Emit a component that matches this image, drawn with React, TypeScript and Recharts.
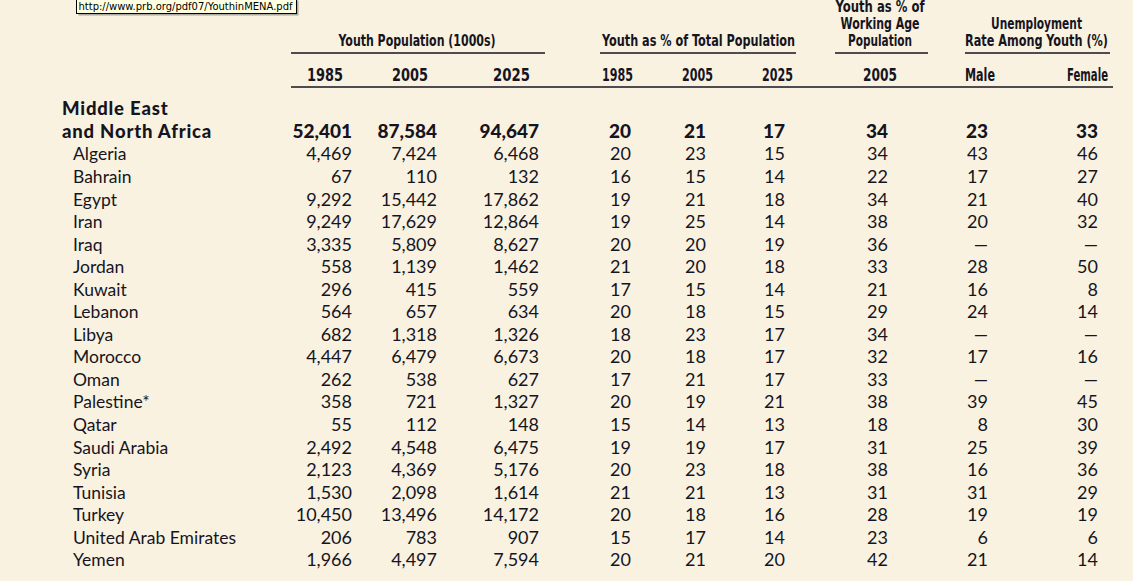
// Youth in MENA table, drawn as a scatter of text marks on a row/column scale.
import { ScatterChart, Scatter, XAxis, YAxis } from 'recharts'

const COUNTRIES = [
  'Middle East and North Africa', 'Algeria', 'Bahrain', 'Egypt', 'Iran', 'Iraq', 'Jordan',
  'Kuwait', 'Lebanon', 'Libya', 'Morocco', 'Oman', 'Palestine*', 'Qatar', 'Saudi Arabia',
  'Syria', 'Tunisia', 'Turkey', 'United Arab Emirates', 'Yemen',
]

const POP_1985 = [52401, 4469, 67, 9292, 9249, 3335, 558, 296, 564, 682, 4447, 262, 358, 55, 2492, 2123, 1530, 10450, 206, 1966]
const POP_2005 = [87584, 7424, 110, 15442, 17629, 5809, 1139, 415, 657, 1318, 6479, 538, 721, 112, 4548, 4369, 2098, 13496, 783, 4497]
const POP_2025 = [94647, 6468, 132, 17862, 12864, 8627, 1462, 559, 634, 1326, 6673, 627, 1327, 148, 6475, 5176, 1614, 14172, 907, 7594]
const PCT_1985 = [20, 20, 16, 19, 19, 20, 21, 17, 20, 18, 20, 17, 20, 15, 19, 20, 21, 20, 15, 20]
const PCT_2005 = [21, 23, 15, 21, 25, 20, 20, 15, 18, 23, 18, 21, 19, 14, 19, 23, 21, 18, 17, 21]
const PCT_2025 = [17, 15, 14, 18, 14, 19, 18, 14, 15, 17, 17, 17, 21, 13, 17, 18, 13, 16, 14, 20]
const WORKING_2005 = [34, 34, 22, 34, 38, 36, 33, 21, 29, 34, 32, 33, 38, 18, 31, 38, 31, 28, 23, 42]
const UNEMP_MALE = [23, 43, 17, 21, 20, null, 28, 16, 24, null, 17, null, 39, 8, 25, 16, 31, 19, 6, 21]
const UNEMP_FEMALE = [33, 46, 27, 40, 32, null, 50, 8, 14, null, 16, null, 45, 30, 39, 36, 29, 19, 6, 14]

const COLUMN_LABELS = ['1985', '2005', '2025', '1985', '2005', '2025', '2005', 'Male', 'Female']
const GROUP_LABELS = [
  ['Youth Population (1000s)'],
  ['Youth as % of Total Population'],
  ['Youth as % of', 'Working Age', 'Population'],
  ['Unemployment', 'Rate Among Youth (%)'],
]
const SOURCE_URL = 'http://www.prb.org/pdf07/YouthinMENA.pdf'

// layout (pixels)
const W = 1133
const H = 581
const LEFT = 60
const COL_RIGHT = [352, 437, 539, 631, 706, 785, 888, 988, 1098]
const HEAD_CENTER = [325, 410, 511.5, 617.5, 697.5, 777.5, 880, 980, 1087.5]
const HEAD_WIDTH = [36, 36, 37, 31, 31, 31, 34, 30, 41]
const GROUPS = [
  { x1: 291, x2: 545, cx: 417, widths: [157] },
  { x1: 600, x2: 796, cx: 698.5, widths: [193] },
  { x1: 835, x2: 928, cx: 880, widths: [89, 79, 64] },
  { x1: 965, x2: 1110, cx: 1036.5, widths: [91, 143] },
]
const INK = '#15151f'
const BG = '#FAF2E1'
const BODY_FONT = 'Lato, "Noto Sans", sans-serif'
const HEAD_FONT = '"DejaVu Sans Condensed", "DejaVu Sans", sans-serif'

const COLUMNS = [POP_1985, POP_2005, POP_2025, PCT_1985, PCT_2005, PCT_2025, WORKING_2005, UNEMP_MALE, UNEMP_FEMALE]

const fmt = (v: number | null) => (v === null ? '—' : v.toLocaleString('en-US'))

const CellText = (props: any) => {
  const { cx, cy, payload } = props
  const bold = payload.y === 0
  return (
    <text
      x={cx}
      y={cy + 6.5}
      textAnchor="end"
      fontFamily={BODY_FONT}
      fontSize={bold ? 19 : 18}
      fontWeight={bold ? 900 : 400}
      fill={INK}
    >
      {payload.label}
    </text>
  )
}

const CountryTick = (props: any) => {
  const { y, payload } = props
  const i = payload.value as number
  if (i === 0) {
    return (
      <g>
        <text x={62} y={y - 16} fontFamily={BODY_FONT} fontSize={18.5} fontWeight={900} letterSpacing={0.8} fill={INK}>
          Middle East
        </text>
        <text x={62} y={y + 6.5} fontFamily={BODY_FONT} fontSize={18.5} fontWeight={900} letterSpacing={0.8} fill={INK}>
          and North Africa
        </text>
      </g>
    )
  }
  return (
    <text x={73} y={y + 6.5} fontFamily={BODY_FONT} fontSize={17.5} fill={INK}>
      {COUNTRIES[i]}
    </text>
  )
}

const Header = () => (
  <g>
    {GROUPS.map((g, gi) => {
      const lines = GROUP_LABELS[gi]
      return (
        <g key={gi}>
          {lines.map((t, li) => (
            <text
              key={t}
              x={g.cx}
              y={46 - (lines.length - 1 - li) * 17}
              textAnchor="middle"
              fontFamily={HEAD_FONT}
              fontWeight="bold"
              fontSize={16}
              textLength={g.widths[li]}
              lengthAdjust="spacingAndGlyphs"
              fill={INK}
            >
              {t}
            </text>
          ))}
          <line x1={g.x1} x2={g.x2} y1={53} y2={53} stroke={INK} strokeWidth={1.5} />
        </g>
      )
    })}
    {COLUMN_LABELS.map((t, i) => (
      <text
        key={i}
        x={HEAD_CENTER[i]}
        y={81}
        textAnchor="middle"
        fontFamily={HEAD_FONT}
        fontWeight="bold"
        fontSize={18}
        textLength={HEAD_WIDTH[i]}
        lengthAdjust="spacingAndGlyphs"
        fill={INK}
      >
        {t}
      </text>
    ))}
    <line x1={291} x2={1113} y1={87} y2={87} stroke={INK} strokeWidth={1.5} />
    {/* hover tooltip showing the source */}
    <rect x={78.5} y={0.5} width={220} height={15} fill="#7a7a7a" opacity={0.6} />
    <rect x={76.5} y={-1.5} width={220} height={15} fill="#FFFFE1" stroke="#000" strokeWidth={1} />
    <text
      x={78.5}
      y={10}
      fontFamily='"DejaVu Sans", sans-serif'
      fontSize={11}
      textLength={214}
      lengthAdjust="spacingAndGlyphs"
      fill="#000"
    >
      {SOURCE_URL}
    </text>
  </g>
)

export default function App() {
  const ticks = COUNTRIES.map((_, i) => i)
  return (
    <div style={{ width: W, height: H, background: BG, position: 'absolute', left: 0, top: 0 }}>
      <style>{`body{margin:0;background:${BG}}`}</style>
      <ScatterChart width={W} height={H} margin={{ top: 120.1, right: 0, bottom: 9.9, left: 0 }}>
        <XAxis type="number" dataKey="x" domain={[LEFT, W]} hide />
        <YAxis
          type="number"
          dataKey="y"
          domain={[-0.5, COUNTRIES.length - 0.5]}
          reversed
          ticks={ticks}
          interval={0}
          width={LEFT}
          axisLine={false}
          tickLine={false}
          tick={<CountryTick />}
        />
        {COLUMNS.map((col, c) => (
          <Scatter
            key={c}
            data={col.map((v, r) => ({ x: COL_RIGHT[c], y: r, label: fmt(v) }))}
            shape={<CellText />}
            isAnimationActive={false}
          />
        ))}
        <Header />
      </ScatterChart>
    </div>
  )
}
